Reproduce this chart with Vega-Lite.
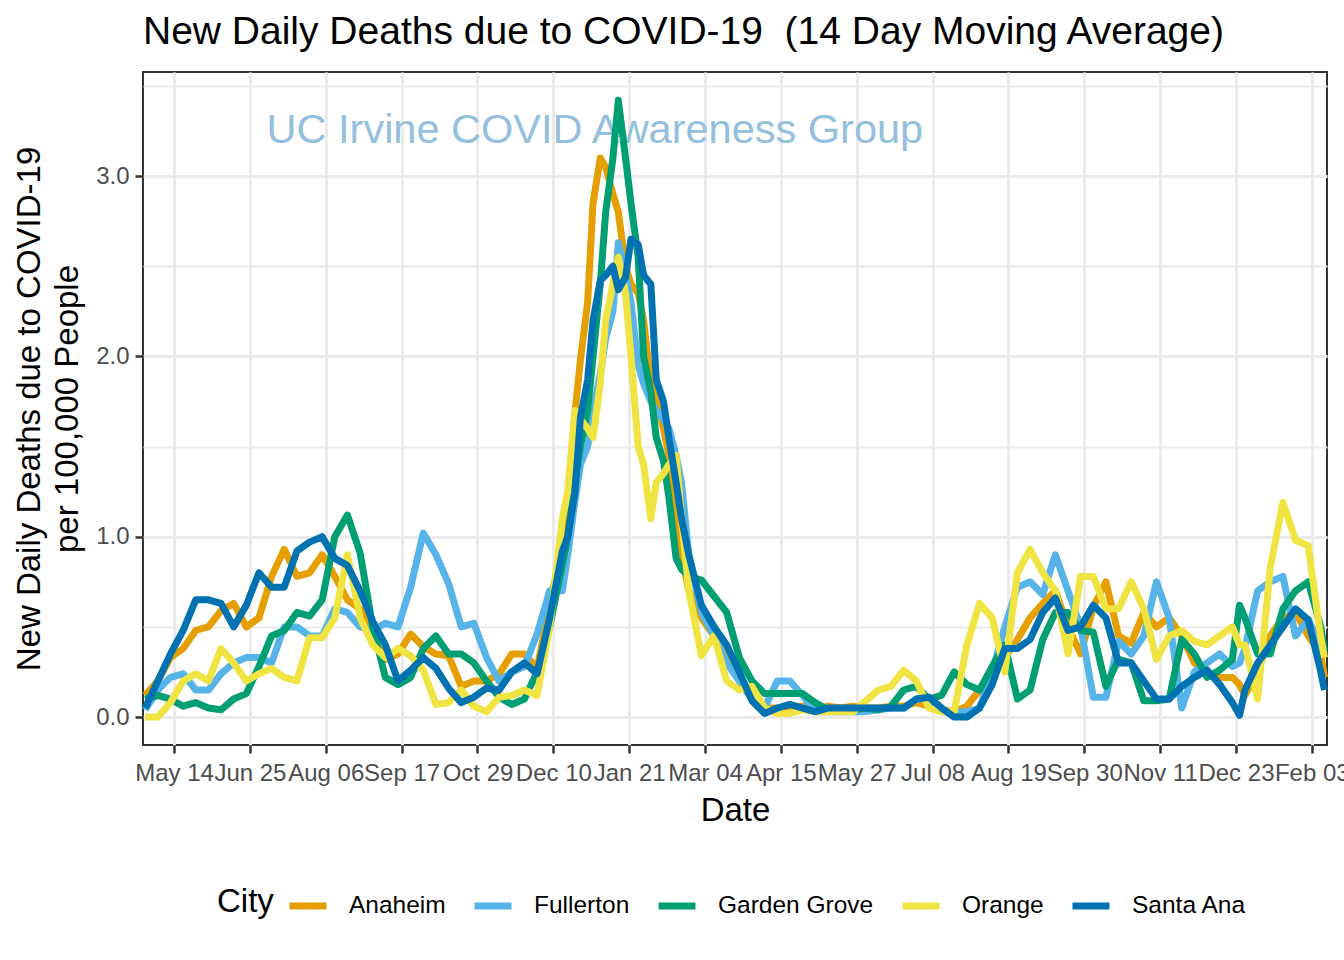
{
  "$schema": "https://vega.github.io/schema/vega-lite/v6.json",
  "width": 1184,
  "height": 673,
  "autosize": {"type": "none"},
  "padding": {"left": 143, "top": 72, "right": 17, "bottom": 215},
  "background": "white",
  "title": {
    "text": "New Daily Deaths due to COVID-19 \u00a0(14 Day Moving Average)",
    "anchor": "start",
    "frame": "group",
    "fontSize": 39,
    "font": "Liberation Sans",
    "fontWeight": "normal",
    "color": "black",
    "offset": 20
  },
  "config": {
    "font": "Liberation Sans",
    "view": {"stroke": "#333333", "strokeWidth": 2},
    "axis": {
      "domain": false,
      "gridColor": "#EBEBEB",
      "tickColor": "#333333",
      "tickWidth": 2.5,
      "tickSize": 8,
      "labelColor": "#4D4D4D",
      "labelFontSize": 24,
      "labelFont": "Liberation Sans",
      "titleFont": "Liberation Sans",
      "titleFontSize": 33,
      "titleColor": "black",
      "titleFontWeight": "normal"
    },
    "legend": {
      "direction": "horizontal",
      "titleOrient": "left",
      "titleFontSize": 33,
      "titleFontWeight": "normal",
      "titleColor": "black",
      "titleFont": "Liberation Sans",
      "labelFont": "Liberation Sans",
      "labelFontSize": 24.5,
      "labelColor": "black",
      "symbolType": "stroke",
      "symbolStrokeWidth": 7,
      "symbolSize": 1369,
      "labelOffset": 19,
      "columnPadding": 14,
      "titlePadding": 12
    }
  },
  "layer": [
    {
      "data": {"values": [{"Date": "2021-01-02", "Deaths": 3.25, "label": "UC Irvine COVID Awareness Group"}]},
      "mark": {"type": "text", "fontSize": 41.5, "color": "#94C0DE", "align": "center", "baseline": "middle", "font": "Liberation Sans"},
      "encoding": {
        "x": {"field": "Date", "type": "temporal"},
        "y": {"field": "Deaths", "type": "quantitative"},
        "text": {"field": "label"}
      }
    },
    {
      "data": {"values": [
        {"Date":"2020-04-28","Anaheim":0.12,"Fullerton":0.04,"Garden Grove":0.10,"Orange":0.0,"Santa Ana":0.05},
        {"Date":"2020-05-05","Anaheim":0.20,"Fullerton":0.15,"Garden Grove":0.12,"Orange":0.0,"Santa Ana":0.20},
        {"Date":"2020-05-12","Anaheim":0.33,"Fullerton":0.22,"Garden Grove":0.10,"Orange":0.08,"Santa Ana":0.35},
        {"Date":"2020-05-19","Anaheim":0.38,"Fullerton":0.24,"Garden Grove":0.06,"Orange":0.20,"Santa Ana":0.48},
        {"Date":"2020-05-26","Anaheim":0.48,"Fullerton":0.15,"Garden Grove":0.08,"Orange":0.24,"Santa Ana":0.65},
        {"Date":"2020-06-02","Anaheim":0.50,"Fullerton":0.15,"Garden Grove":0.05,"Orange":0.20,"Santa Ana":0.65},
        {"Date":"2020-06-09","Anaheim":0.59,"Fullerton":0.24,"Garden Grove":0.04,"Orange":0.38,"Santa Ana":0.63},
        {"Date":"2020-06-16","Anaheim":0.63,"Fullerton":0.30,"Garden Grove":0.10,"Orange":0.30,"Santa Ana":0.50},
        {"Date":"2020-06-23","Anaheim":0.50,"Fullerton":0.33,"Garden Grove":0.13,"Orange":0.20,"Santa Ana":0.62},
        {"Date":"2020-06-30","Anaheim":0.55,"Fullerton":0.33,"Garden Grove":0.28,"Orange":0.24,"Santa Ana":0.80},
        {"Date":"2020-07-07","Anaheim":0.78,"Fullerton":0.30,"Garden Grove":0.45,"Orange":0.27,"Santa Ana":0.72},
        {"Date":"2020-07-14","Anaheim":0.93,"Fullerton":0.50,"Garden Grove":0.48,"Orange":0.22,"Santa Ana":0.72},
        {"Date":"2020-07-21","Anaheim":0.78,"Fullerton":0.50,"Garden Grove":0.58,"Orange":0.20,"Santa Ana":0.92},
        {"Date":"2020-07-28","Anaheim":0.80,"Fullerton":0.45,"Garden Grove":0.56,"Orange":0.44,"Santa Ana":0.97},
        {"Date":"2020-08-04","Anaheim":0.90,"Fullerton":0.45,"Garden Grove":0.65,"Orange":0.44,"Santa Ana":1.00},
        {"Date":"2020-08-11","Anaheim":0.78,"Fullerton":0.60,"Garden Grove":1.00,"Orange":0.55,"Santa Ana":0.88},
        {"Date":"2020-08-18","Anaheim":0.65,"Fullerton":0.58,"Garden Grove":1.12,"Orange":0.90,"Santa Ana":0.84},
        {"Date":"2020-08-25","Anaheim":0.60,"Fullerton":0.50,"Garden Grove":0.91,"Orange":0.55,"Santa Ana":0.70},
        {"Date":"2020-09-01","Anaheim":0.45,"Fullerton":0.48,"Garden Grove":0.50,"Orange":0.40,"Santa Ana":0.53},
        {"Date":"2020-09-08","Anaheim":0.32,"Fullerton":0.52,"Garden Grove":0.22,"Orange":0.33,"Santa Ana":0.40},
        {"Date":"2020-09-15","Anaheim":0.35,"Fullerton":0.50,"Garden Grove":0.18,"Orange":0.38,"Santa Ana":0.20},
        {"Date":"2020-09-22","Anaheim":0.46,"Fullerton":0.72,"Garden Grove":0.22,"Orange":0.34,"Santa Ana":0.26},
        {"Date":"2020-09-29","Anaheim":0.39,"Fullerton":1.02,"Garden Grove":0.38,"Orange":0.26,"Santa Ana":0.33},
        {"Date":"2020-10-06","Anaheim":0.35,"Fullerton":0.90,"Garden Grove":0.45,"Orange":0.07,"Santa Ana":0.27},
        {"Date":"2020-10-13","Anaheim":0.34,"Fullerton":0.74,"Garden Grove":0.35,"Orange":0.08,"Santa Ana":0.16},
        {"Date":"2020-10-20","Anaheim":0.17,"Fullerton":0.50,"Garden Grove":0.35,"Orange":0.15,"Santa Ana":0.08},
        {"Date":"2020-10-27","Anaheim":0.20,"Fullerton":0.52,"Garden Grove":0.30,"Orange":0.06,"Santa Ana":0.11},
        {"Date":"2020-11-03","Anaheim":0.20,"Fullerton":0.33,"Garden Grove":0.20,"Orange":0.03,"Santa Ana":0.16},
        {"Date":"2020-11-10","Anaheim":0.24,"Fullerton":0.20,"Garden Grove":0.11,"Orange":0.11,"Santa Ana":0.15},
        {"Date":"2020-11-17","Anaheim":0.35,"Fullerton":0.25,"Garden Grove":0.07,"Orange":0.12,"Santa Ana":0.25},
        {"Date":"2020-11-24","Anaheim":0.35,"Fullerton":0.28,"Garden Grove":0.10,"Orange":0.15,"Santa Ana":0.30},
        {"Date":"2020-12-01","Anaheim":0.27,"Fullerton":0.46,"Garden Grove":0.25,"Orange":0.12,"Santa Ana":0.24},
        {"Date":"2020-12-08","Anaheim":0.62,"Fullerton":0.70,"Garden Grove":0.50,"Orange":0.50,"Santa Ana":0.55},
        {"Date":"2020-12-15","Anaheim":0.95,"Fullerton":0.70,"Garden Grove":0.85,"Orange":1.10,"Santa Ana":0.92},
        {"Date":"2020-12-18","Anaheim":1.20,"Fullerton":0.90,"Garden Grove":1.00,"Orange":1.25,"Santa Ana":1.00},
        {"Date":"2020-12-22","Anaheim":1.69,"Fullerton":1.20,"Garden Grove":1.30,"Orange":1.70,"Santa Ana":1.25},
        {"Date":"2020-12-25","Anaheim":1.98,"Fullerton":1.40,"Garden Grove":1.50,"Orange":1.65,"Santa Ana":1.66},
        {"Date":"2020-12-29","Anaheim":2.30,"Fullerton":1.50,"Garden Grove":1.70,"Orange":1.60,"Santa Ana":1.87},
        {"Date":"2021-01-01","Anaheim":2.85,"Fullerton":1.70,"Garden Grove":2.00,"Orange":1.55,"Santa Ana":2.20},
        {"Date":"2021-01-05","Anaheim":3.10,"Fullerton":1.90,"Garden Grove":2.40,"Orange":1.85,"Santa Ana":2.42},
        {"Date":"2021-01-08","Anaheim":3.05,"Fullerton":2.10,"Garden Grove":2.80,"Orange":2.20,"Santa Ana":2.45},
        {"Date":"2021-01-12","Anaheim":2.90,"Fullerton":2.25,"Garden Grove":3.10,"Orange":2.40,"Santa Ana":2.50},
        {"Date":"2021-01-15","Anaheim":2.80,"Fullerton":2.63,"Garden Grove":3.42,"Orange":2.55,"Santa Ana":2.37},
        {"Date":"2021-01-19","Anaheim":2.50,"Fullerton":2.45,"Garden Grove":3.10,"Orange":2.35,"Santa Ana":2.44},
        {"Date":"2021-01-22","Anaheim":2.40,"Fullerton":2.30,"Garden Grove":2.85,"Orange":2.00,"Santa Ana":2.65},
        {"Date":"2021-01-26","Anaheim":2.35,"Fullerton":1.95,"Garden Grove":2.55,"Orange":1.50,"Santa Ana":2.62},
        {"Date":"2021-01-29","Anaheim":2.20,"Fullerton":1.85,"Garden Grove":2.00,"Orange":1.40,"Santa Ana":2.45},
        {"Date":"2021-02-02","Anaheim":1.85,"Fullerton":1.75,"Garden Grove":1.80,"Orange":1.10,"Santa Ana":2.40},
        {"Date":"2021-02-05","Anaheim":1.75,"Fullerton":1.70,"Garden Grove":1.55,"Orange":1.30,"Santa Ana":1.87},
        {"Date":"2021-02-09","Anaheim":1.60,"Fullerton":1.65,"Garden Grove":1.42,"Orange":1.35,"Santa Ana":1.75},
        {"Date":"2021-02-12","Anaheim":1.45,"Fullerton":1.60,"Garden Grove":1.22,"Orange":1.40,"Santa Ana":1.55},
        {"Date":"2021-02-16","Anaheim":1.20,"Fullerton":1.45,"Garden Grove":0.88,"Orange":1.45,"Santa Ana":1.30},
        {"Date":"2021-02-19","Anaheim":0.90,"Fullerton":1.30,"Garden Grove":0.82,"Orange":1.10,"Santa Ana":1.10},
        {"Date":"2021-02-23","Anaheim":0.70,"Fullerton":0.90,"Garden Grove":0.78,"Orange":0.70,"Santa Ana":0.90},
        {"Date":"2021-03-02","Anaheim":0.55,"Fullerton":0.58,"Garden Grove":0.76,"Orange":0.34,"Santa Ana":0.62},
        {"Date":"2021-03-09","Anaheim":0.45,"Fullerton":0.45,"Garden Grove":0.67,"Orange":0.45,"Santa Ana":0.50},
        {"Date":"2021-03-16","Anaheim":0.35,"Fullerton":0.30,"Garden Grove":0.58,"Orange":0.20,"Santa Ana":0.40},
        {"Date":"2021-03-23","Anaheim":0.20,"Fullerton":0.20,"Garden Grove":0.33,"Orange":0.15,"Santa Ana":0.25},
        {"Date":"2021-03-30","Anaheim":0.10,"Fullerton":0.10,"Garden Grove":0.20,"Orange":0.17,"Santa Ana":0.09},
        {"Date":"2021-04-06","Anaheim":0.05,"Fullerton":0.05,"Garden Grove":0.13,"Orange":0.05,"Santa Ana":0.02},
        {"Date":"2021-04-13","Anaheim":0.05,"Fullerton":0.20,"Garden Grove":0.13,"Orange":0.02,"Santa Ana":0.05},
        {"Date":"2021-04-20","Anaheim":0.05,"Fullerton":0.20,"Garden Grove":0.13,"Orange":0.02,"Santa Ana":0.07},
        {"Date":"2021-04-27","Anaheim":0.06,"Fullerton":0.12,"Garden Grove":0.13,"Orange":0.04,"Santa Ana":0.05},
        {"Date":"2021-05-04","Anaheim":0.04,"Fullerton":0.03,"Garden Grove":0.08,"Orange":0.03,"Santa Ana":0.03},
        {"Date":"2021-05-11","Anaheim":0.06,"Fullerton":0.03,"Garden Grove":0.04,"Orange":0.03,"Santa Ana":0.05},
        {"Date":"2021-05-18","Anaheim":0.05,"Fullerton":0.03,"Garden Grove":0.04,"Orange":0.03,"Santa Ana":0.05},
        {"Date":"2021-05-25","Anaheim":0.06,"Fullerton":0.03,"Garden Grove":0.04,"Orange":0.03,"Santa Ana":0.05},
        {"Date":"2021-06-01","Anaheim":0.05,"Fullerton":0.03,"Garden Grove":0.05,"Orange":0.09,"Santa Ana":0.05},
        {"Date":"2021-06-08","Anaheim":0.05,"Fullerton":0.04,"Garden Grove":0.04,"Orange":0.15,"Santa Ana":0.05},
        {"Date":"2021-06-15","Anaheim":0.06,"Fullerton":0.05,"Garden Grove":0.06,"Orange":0.17,"Santa Ana":0.05},
        {"Date":"2021-06-22","Anaheim":0.06,"Fullerton":0.05,"Garden Grove":0.15,"Orange":0.26,"Santa Ana":0.05},
        {"Date":"2021-06-29","Anaheim":0.08,"Fullerton":0.10,"Garden Grove":0.17,"Orange":0.20,"Santa Ana":0.10},
        {"Date":"2021-07-06","Anaheim":0.06,"Fullerton":0.10,"Garden Grove":0.10,"Orange":0.05,"Santa Ana":0.11},
        {"Date":"2021-07-13","Anaheim":0.04,"Fullerton":0.03,"Garden Grove":0.12,"Orange":0.03,"Santa Ana":0.05},
        {"Date":"2021-07-20","Anaheim":0.03,"Fullerton":0.03,"Garden Grove":0.25,"Orange":0.03,"Santa Ana":0.0},
        {"Date":"2021-07-27","Anaheim":0.06,"Fullerton":0.03,"Garden Grove":0.18,"Orange":0.40,"Santa Ana":0.0},
        {"Date":"2021-08-03","Anaheim":0.15,"Fullerton":0.05,"Garden Grove":0.15,"Orange":0.63,"Santa Ana":0.05},
        {"Date":"2021-08-10","Anaheim":0.25,"Fullerton":0.25,"Garden Grove":0.28,"Orange":0.55,"Santa Ana":0.18},
        {"Date":"2021-08-17","Anaheim":0.33,"Fullerton":0.50,"Garden Grove":0.40,"Orange":0.25,"Santa Ana":0.38},
        {"Date":"2021-08-24","Anaheim":0.43,"Fullerton":0.72,"Garden Grove":0.10,"Orange":0.80,"Santa Ana":0.38},
        {"Date":"2021-08-31","Anaheim":0.55,"Fullerton":0.75,"Garden Grove":0.15,"Orange":0.93,"Santa Ana":0.43},
        {"Date":"2021-09-07","Anaheim":0.63,"Fullerton":0.68,"Garden Grove":0.43,"Orange":0.80,"Santa Ana":0.58},
        {"Date":"2021-09-14","Anaheim":0.70,"Fullerton":0.90,"Garden Grove":0.58,"Orange":0.70,"Santa Ana":0.66},
        {"Date":"2021-09-21","Anaheim":0.50,"Fullerton":0.70,"Garden Grove":0.58,"Orange":0.35,"Santa Ana":0.48},
        {"Date":"2021-09-28","Anaheim":0.35,"Fullerton":0.50,"Garden Grove":0.48,"Orange":0.78,"Santa Ana":0.50},
        {"Date":"2021-10-05","Anaheim":0.61,"Fullerton":0.11,"Garden Grove":0.47,"Orange":0.78,"Santa Ana":0.62},
        {"Date":"2021-10-12","Anaheim":0.75,"Fullerton":0.11,"Garden Grove":0.17,"Orange":0.60,"Santa Ana":0.55},
        {"Date":"2021-10-19","Anaheim":0.45,"Fullerton":0.42,"Garden Grove":0.32,"Orange":0.60,"Santa Ana":0.30},
        {"Date":"2021-10-26","Anaheim":0.41,"Fullerton":0.35,"Garden Grove":0.30,"Orange":0.75,"Santa Ana":0.30},
        {"Date":"2021-11-02","Anaheim":0.58,"Fullerton":0.45,"Garden Grove":0.09,"Orange":0.60,"Santa Ana":0.20},
        {"Date":"2021-11-09","Anaheim":0.50,"Fullerton":0.75,"Garden Grove":0.09,"Orange":0.32,"Santa Ana":0.10},
        {"Date":"2021-11-16","Anaheim":0.55,"Fullerton":0.55,"Garden Grove":0.10,"Orange":0.45,"Santa Ana":0.10},
        {"Date":"2021-11-23","Anaheim":0.45,"Fullerton":0.05,"Garden Grove":0.43,"Orange":0.48,"Santa Ana":0.17},
        {"Date":"2021-11-30","Anaheim":0.30,"Fullerton":0.25,"Garden Grove":0.35,"Orange":0.42,"Santa Ana":0.22},
        {"Date":"2021-12-07","Anaheim":0.25,"Fullerton":0.30,"Garden Grove":0.22,"Orange":0.40,"Santa Ana":0.26},
        {"Date":"2021-12-14","Anaheim":0.22,"Fullerton":0.35,"Garden Grove":0.26,"Orange":0.45,"Santa Ana":0.18},
        {"Date":"2021-12-21","Anaheim":0.22,"Fullerton":0.28,"Garden Grove":0.32,"Orange":0.50,"Santa Ana":0.08},
        {"Date":"2021-12-25","Anaheim":0.18,"Fullerton":0.30,"Garden Grove":0.62,"Orange":0.40,"Santa Ana":0.01},
        {"Date":"2021-12-28","Anaheim":0.12,"Fullerton":0.38,"Garden Grove":0.55,"Orange":0.40,"Santa Ana":0.15},
        {"Date":"2022-01-04","Anaheim":0.25,"Fullerton":0.70,"Garden Grove":0.35,"Orange":0.10,"Santa Ana":0.30},
        {"Date":"2022-01-11","Anaheim":0.45,"Fullerton":0.75,"Garden Grove":0.35,"Orange":0.83,"Santa Ana":0.40},
        {"Date":"2022-01-18","Anaheim":0.55,"Fullerton":0.78,"Garden Grove":0.60,"Orange":1.19,"Santa Ana":0.50},
        {"Date":"2022-01-25","Anaheim":0.58,"Fullerton":0.45,"Garden Grove":0.70,"Orange":0.98,"Santa Ana":0.60},
        {"Date":"2022-02-01","Anaheim":0.45,"Fullerton":0.54,"Garden Grove":0.75,"Orange":0.95,"Santa Ana":0.54},
        {"Date":"2022-02-08","Anaheim":0.35,"Fullerton":0.40,"Garden Grove":0.50,"Orange":0.44,"Santa Ana":0.25},
        {"Date":"2022-02-10","Anaheim":0.22,"Fullerton":0.35,"Garden Grove":0.37,"Orange":0.33,"Santa Ana":0.15}
      ]},
      "transform": [
        {"fold": ["Anaheim", "Fullerton", "Garden Grove", "Orange", "Santa Ana"], "as": ["City", "Deaths"]}
      ],
      "mark": {"type": "line", "strokeWidth": 7, "strokeJoin": "round"},
      "encoding": {
        "x": {
          "field": "Date",
          "type": "temporal",
          "scale": {"domain": [{"year": 2020, "month": 4, "date": 26, "hours": 19}, {"year": 2022, "month": 2, "date": 11, "hours": 10}]},
          "axis": {
            "title": "Date",
            "values": [
              {"year":2020,"month":5,"date":14},{"year":2020,"month":6,"date":4},{"year":2020,"month":6,"date":25},
              {"year":2020,"month":7,"date":16},{"year":2020,"month":8,"date":6},{"year":2020,"month":8,"date":27},
              {"year":2020,"month":9,"date":17},{"year":2020,"month":10,"date":8},{"year":2020,"month":10,"date":29},
              {"year":2020,"month":11,"date":19},{"year":2020,"month":12,"date":10},{"year":2020,"month":12,"date":31},
              {"year":2021,"month":1,"date":21},{"year":2021,"month":2,"date":11},{"year":2021,"month":3,"date":4},
              {"year":2021,"month":3,"date":25},{"year":2021,"month":4,"date":15},{"year":2021,"month":5,"date":6},
              {"year":2021,"month":5,"date":27},{"year":2021,"month":6,"date":17},{"year":2021,"month":7,"date":8},
              {"year":2021,"month":7,"date":29},{"year":2021,"month":8,"date":19},{"year":2021,"month":9,"date":9},
              {"year":2021,"month":9,"date":30},{"year":2021,"month":10,"date":21},{"year":2021,"month":11,"date":11},
              {"year":2021,"month":12,"date":2},{"year":2021,"month":12,"date":23},{"year":2022,"month":1,"date":13},
              {"year":2022,"month":2,"date":3}
            ],
            "labelExpr": "round((datum.value - datetime(2020,4,14)) / 1814400000) % 2 === 0 ? timeFormat(datum.value, '%b %d') : ''",
            "labelOverlap": false,
            "labelFlush": false,
            "labelPadding": 8,
            "titlePadding": 9,
            "grid": true,
            "gridWidth": {"condition": {"test": "round((datum.value - datetime(2020,4,14)) / 1814400000) % 2 === 0", "value": 3}, "value": 2},
            "tickOpacity": {"condition": {"test": "round((datum.value - datetime(2020,4,14)) / 1814400000) % 2 === 0", "value": 1}, "value": 0}
          }
        },
        "y": {
          "field": "Deaths",
          "type": "quantitative",
          "scale": {"domain": [-0.155, 3.577], "nice": false, "zero": false},
          "axis": {
            "title": ["New Daily Deaths due to COVID-19", "per 100,000 People"],
            "titleLineHeight": 38,
            "values": [0, 0.5, 1, 1.5, 2, 2.5, 3, 3.5],
            "labelExpr": "datum.value % 1 === 0 ? format(datum.value, '.1f') : ''",
            "labelPadding": 6,
            "titlePadding": 11,
            "grid": true,
            "gridWidth": {"condition": {"test": "datum.value % 1 === 0", "value": 3}, "value": 2},
            "tickOpacity": {"condition": {"test": "datum.value % 1 === 0", "value": 1}, "value": 0}
          }
        },
        "color": {
          "field": "City",
          "type": "nominal",
          "scale": {
            "domain": ["Anaheim", "Fullerton", "Garden Grove", "Orange", "Santa Ana"],
            "range": ["#E69F00", "#56B4E9", "#009E73", "#F0E442", "#0072B2"]
          },
          "legend": {"title": "City", "orient": "none", "legendX": 74, "legendY": 812}
        }
      }
    }
  ]
}
